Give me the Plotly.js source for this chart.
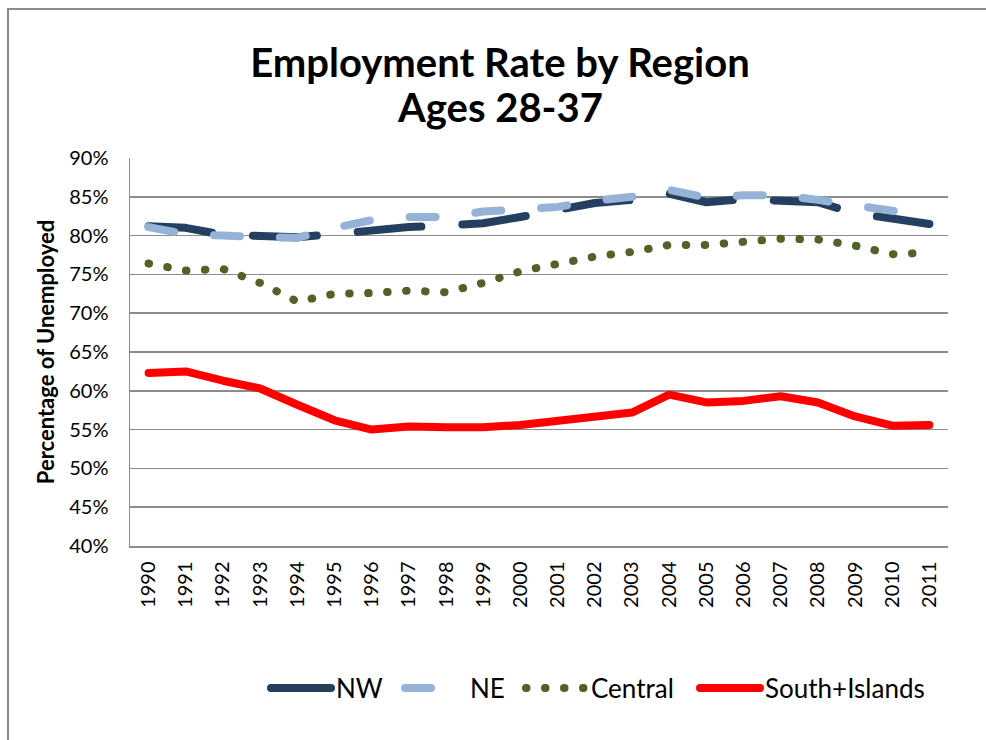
<!DOCTYPE html>
<html>
<head>
<meta charset="utf-8">
<script src="https://cdn.plot.ly/plotly-3.0.1.min.js"></script>
<style>
  html, body { margin:0; padding:0; background:#fff; overflow:hidden; }
  #wrap { position:relative; width:986px; height:740px; }
  #chart { position:absolute; left:0; top:0; width:986px; height:740px; }
  #frame { position:absolute; left:7px; top:8px; width:1200px; height:1200px;
           border:2px solid #8c8c8c; pointer-events:none; box-sizing:border-box; }
  .js-line { stroke-linecap: round !important; stroke-linejoin: round !important; }
</style>
</head>
<body>
<div id="wrap">
  <div id="chart"></div>
  <div id="frame"></div>
</div>
<script>
const years = ['1990','1991','1992','1993','1994','1995','1996','1997','1998','1999','2000',
               '2001','2002','2003','2004','2005','2006','2007','2008','2009','2010','2011'];
const nw      = [81.2, 81.0, 80.1, 79.9, 79.8, 80.2, 80.7, 81.1, 81.3, 81.6, 82.4,
                 83.2, 84.2, 84.6, 85.4, 84.3, 84.7, 84.5, 84.3, 82.9, 82.2, 81.5];
const ne      = [81.1, 80.2, 80.0, 79.8, 79.7, 81.0, 82.0, 82.4, 82.4, 83.1, 83.5,
                 83.7, 84.5, 85.0, 85.9, 84.9, 85.2, 85.2, 84.6, 83.8, 83.2, 82.8];
const central = [76.4, 75.5, 75.7, 73.9, 71.5, 72.5, 72.6, 72.9, 72.7, 73.9, 75.4,
                 76.4, 77.3, 77.9, 78.8, 78.8, 79.3, 79.6, 79.5, 78.7, 77.6, 77.8];
const south   = [62.3, 62.5, 61.3, 60.3, 58.2, 56.2, 55.0, 55.4, 55.3, 55.3, 55.6,
                 56.2, 56.7, 57.2, 59.5, 58.5, 58.7, 59.3, 58.5, 56.7, 55.5, 55.6];
const yTicks  = [40, 45, 50, 55, 60, 65, 70, 75, 80, 85, 90];
const titleLine1 = 'Employment Rate by Region';
const titleLine2 = 'Ages 28-37';

const FONT = 'Lato, "Open Sans", sans-serif';
const GRID = '#8c8c8c';

const traces = [
  { x: years, y: nw, name: 'NW', type: 'scatter', mode: 'lines', legendwidth: 59,
    line: { color: '#243F60', width: 8, dash: '64px,41px' } },
  { x: years, y: ne, name: 'NE', type: 'scatter', mode: 'lines', legendwidth: 46,
    line: { color: '#95B3D7', width: 8, dash: '26px,40px' } },
  { x: years, y: central, name: 'Central', type: 'scatter', mode: 'lines', legendwidth: 99,
    line: { color: '#4F6228', width: 8, dash: '0.5px,18.5px' } },
  { x: years, y: south, name: 'South+Islands', type: 'scatter', mode: 'lines', legendwidth: 170,
    line: { color: '#FF0000', width: 8 } }
];

const layout = {
  width: 986, height: 740,
  paper_bgcolor: '#fff', plot_bgcolor: '#fff',
  margin: { l: 130, r: 38, t: 158, b: 194 },
  font: { family: FONT, color: '#000' },
  showlegend: true,
  title: {
    text: '<b>' + titleLine1 + '</b>',
    font: { family: FONT, size: 40, color: '#000' },
    xref: 'container', x: 500 / 986, xanchor: 'center',
    yref: 'container', y: 1 - 49 / 740, yanchor: 'top'
  },
  annotations: [{
    text: '<b>' + titleLine2 + '</b>',
    font: { family: FONT, size: 40, color: '#000' },
    xref: 'paper', x: (500 - 130) / 818, xanchor: 'center',
    yref: 'paper', y: (546 - 106.5) / 388, yanchor: 'middle',
    showarrow: false
  }],
  xaxis: {
    type: 'category',
    range: [-0.5, years.length - 0.5],
    tickangle: -90,
    tickfont: { family: FONT, size: 20, color: '#000' },
    showline: true, linecolor: GRID, linewidth: 1.5,
    showgrid: false, ticks: '', zeroline: false,
    ticklabelstandoff: 6
  },
  yaxis: {
    range: [40, 90],
    tickvals: yTicks,
    ticktext: yTicks.map(v => v + '%'),
    tickfont: { family: FONT, size: 20, color: '#000' },
    showline: true, linecolor: GRID, linewidth: 1.5,
    showgrid: true, gridcolor: GRID, gridwidth: 1.5,
    ticks: '', zeroline: false,
    ticklabelstandoff: 16,
    title: { text: '<b>Percentage of Unemployed</b>',
             font: { family: FONT, size: 22, color: '#000' }, standoff: 8 }
  },
  legend: {
    orientation: 'h',
    x: (266 - 130) / 818, xanchor: 'left',
    y: -(688 - 546) / 388, yanchor: 'middle',
    font: { family: FONT, size: 26, color: '#000' },
    itemwidth: 60,
    bgcolor: 'rgba(0,0,0,0)'
  }
};

Plotly.newPlot('chart', traces, layout, { displayModeBar: false, staticPlot: true });
</script>
</body>
</html>
